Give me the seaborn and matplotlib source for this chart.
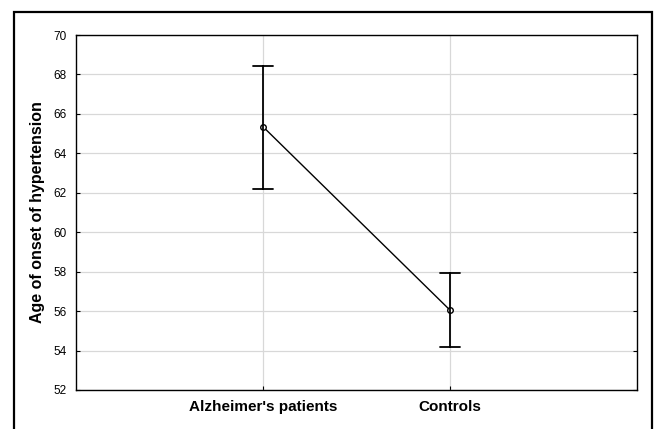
import matplotlib
matplotlib.use("Agg")
import matplotlib.pyplot as plt
import seaborn as sns
import pandas as pd
from matplotlib.patches import Rectangle

categories = ["Alzheimer's patients", "Controls"]
means = [65.35, 56.05]
lower = [62.2, 54.2]
upper = [68.45, 57.95]
yticks = [52, 54, 56, 58, 60, 62, 64, 66, 68, 70]

rows = []
for c, lo, m, hi in zip(categories, lower, means, upper):
    for v in (lo, m, hi):
        rows.append({"group": c, "age": v})
df = pd.DataFrame(rows)

sns.set_style("white")
plt.rcParams['font.family'] = ['Liberation Sans', 'DejaVu Sans']
plt.rcParams['text.color'] = 'black'
plt.rcParams['axes.labelcolor'] = 'black'
plt.rcParams['xtick.color'] = 'black'
plt.rcParams['ytick.color'] = 'black'

fig = plt.figure(figsize=(6.55, 4.29), dpi=100)
ax = fig.add_axes([76/655, 1-390/429, (637-76)/655, (390-35)/429])

sns.pointplot(data=df, x="group", y="age", order=categories,
              estimator="median", errorbar=("pi", 100), capsize=0.11,
              color="black", linewidth=1.0, markers="o", markersize=4,
              markerfacecolor="white", markeredgewidth=1.0,
              err_kws={"linewidth": 1.3}, ax=ax, zorder=3)

ax.set_xlim(-1, 2)
ax.set_ylim(52, 70)
ax.set_yticks(yticks)
ax.set_yticklabels([str(t) for t in yticks], fontsize=8.5)
ax.set_xticks([0, 1])
ax.set_xticklabels(categories, fontsize=11, fontweight="bold")
ax.set_xlabel("")
ax.set_ylabel("Age of onset of hypertension", fontsize=11.5, fontweight="bold", labelpad=6)
ax.grid(True, color="#d8d8d8", linewidth=0.9, zorder=0)
ax.set_axisbelow(True)
for s in ax.spines.values():
    s.set_color("black")
    s.set_linewidth(1.0)
ax.tick_params(axis="y", direction="in", length=3, width=0.8, pad=7, left=True, right=True)
ax.tick_params(axis="x", direction="in", length=3, width=0.8, pad=7, bottom=True)

fig.patches.append(Rectangle((14/655, -0.1), (652-14)/655, 1.1 - 12/429,
                             transform=fig.transFigure, fill=False,
                             edgecolor="black", linewidth=1.6))

fig.savefig("out.png", dpi=100)
